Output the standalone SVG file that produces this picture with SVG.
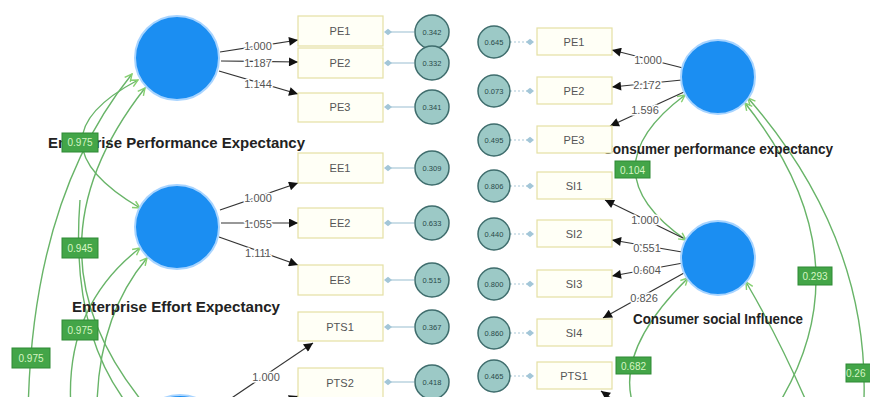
<svg xmlns="http://www.w3.org/2000/svg" width="870" height="397" viewBox="0 0 870 397">
<style>
.bg{fill:#ffffff}
.lat{fill:#1b8ef2;stroke:#a8d4ff;stroke-width:2}
.box{fill:#fffff6;stroke:#e4e0a4;stroke-width:1.2}
.bt{font-family:"Liberation Sans",Arial,sans-serif;font-size:11px;fill:#555;text-anchor:middle}
.err{fill:#9cc9c6;stroke:#3f6d6d;stroke-width:1.5}
.et{font-family:"Liberation Sans",Arial,sans-serif;font-size:7.5px;fill:#2b4a4a;text-anchor:middle}
.eline{stroke:#a9c8d8;stroke-width:1.2;fill:none}
.edot{stroke:#a9c8d8;stroke-width:1.2;fill:none;stroke-dasharray:2 2}
.ld{stroke:#333;stroke-width:1.2;fill:none}
.lt{font-family:"Liberation Sans",Arial,sans-serif;font-size:11px;fill:#555;text-anchor:middle;stroke:#fff;stroke-width:3;paint-order:stroke;stroke-linejoin:round}
.cv{stroke:#68b468;stroke-width:1.4;fill:none}
.gb{fill:#43a548;stroke:#2f8a35;stroke-width:1}
.gt{font-family:"Liberation Sans",Arial,sans-serif;font-size:10px;fill:#d6f5c4;text-anchor:middle}
.nm{font-family:"Liberation Sans",Arial,sans-serif;font-size:14px;font-weight:bold;fill:#222}
</style>
<defs>
<marker id="ab" viewBox="0 0 10 10" refX="10" refY="5" markerWidth="11" markerHeight="9" markerUnits="userSpaceOnUse" orient="auto"><path d="M0,0 L10,5 L0,10 z" fill="#111"/></marker>
<marker id="ag" viewBox="0 0 10 10" refX="9" refY="5" markerWidth="9" markerHeight="9" markerUnits="userSpaceOnUse" orient="auto-start-reverse"><path d="M1,1 L9,5 L1,9" fill="none" stroke="#86d070" stroke-width="1.6"/></marker>
<marker id="dm" viewBox="0 0 10 10" refX="5" refY="5" markerWidth="8" markerHeight="8" markerUnits="userSpaceOnUse" orient="auto"><path d="M0,5 L5,1 L10,5 L5,9 z" fill="#a3c6d8"/></marker>
</defs>
<rect class="bg" x="0" y="0" width="870" height="397"/>

<g id="connectors">
  <path class="cv" d="M138,80 Q25,140 140,208" marker-start="url(#ag)" marker-end="url(#ag)"/>
  <path class="cv" d="M145,88 Q18,250 145,405" marker-start="url(#ag)"/>
  <path class="cv" d="M132,74 Q30,200 28,420" marker-start="url(#ag)"/>
  <path class="cv" d="M140,248 Q60,310 72,420" marker-start="url(#ag)"/>
  <path class="cv" d="M147,258 Q95,320 97,420" marker-start="url(#ag)"/>
  <path class="cv" d="M80,200 Q70,330 128,405"/>
  <path class="cv" d="M685,95 Q585,170 686,240" marker-start="url(#ag)" marker-end="url(#ag)"/>
  <path class="cv" d="M745,103 Q870,260 775,410" marker-start="url(#ag)"/>
  <path class="cv" d="M748,98 Q880,250 862,430" marker-start="url(#ag)"/>
  <path class="cv" d="M688,278 Q605,360 640,420" marker-start="url(#ag)"/>
  <path class="cv" d="M746,282 Q780,340 810,410" marker-start="url(#ag)"/>

  <line class="ld" x1="220" y1="52" x2="298" y2="40" marker-end="url(#ab)"/>
  <line class="ld" x1="221" y1="61" x2="298" y2="62" marker-end="url(#ab)"/>
  <line class="ld" x1="219" y1="71" x2="298" y2="94" marker-end="url(#ab)"/>
  <line class="ld" x1="220" y1="210" x2="298" y2="183" marker-end="url(#ab)"/>
  <line class="ld" x1="221" y1="223" x2="298" y2="223" marker-end="url(#ab)"/>
  <line class="ld" x1="219" y1="237" x2="298" y2="265" marker-end="url(#ab)"/>
  <line class="ld" x1="205" y1="416" x2="313" y2="343" marker-end="url(#ab)"/>
  <line class="ld" x1="215" y1="430" x2="298" y2="396" marker-end="url(#ab)"/>
  <line class="ld" x1="683" y1="68" x2="612" y2="50" marker-end="url(#ab)"/>
  <line class="ld" x1="682" y1="80" x2="612" y2="87" marker-end="url(#ab)"/>
  <line class="ld" x1="684" y1="92" x2="610" y2="126" marker-end="url(#ab)"/>
  <line class="ld" x1="683" y1="238" x2="605" y2="200" marker-end="url(#ab)"/>
  <line class="ld" x1="682" y1="252" x2="612" y2="240" marker-end="url(#ab)"/>
  <line class="ld" x1="683" y1="263" x2="612" y2="276" marker-end="url(#ab)"/>
  <line class="ld" x1="684" y1="273" x2="603" y2="318" marker-end="url(#ab)"/>
  <line class="ld" x1="630" y1="412" x2="601" y2="391" marker-end="url(#ab)"/>

  <line class="eline" x1="414" y1="32" x2="388" y2="32" marker-end="url(#dm)"/>
  <line class="eline" x1="414" y1="63" x2="388" y2="63" marker-end="url(#dm)"/>
  <line class="eline" x1="414" y1="107" x2="388" y2="107" marker-end="url(#dm)"/>
  <line class="eline" x1="414" y1="168" x2="388" y2="168" marker-end="url(#dm)"/>
  <line class="eline" x1="414" y1="223" x2="388" y2="223" marker-end="url(#dm)"/>
  <line class="eline" x1="414" y1="280" x2="388" y2="280" marker-end="url(#dm)"/>
  <line class="eline" x1="414" y1="327" x2="388" y2="327" marker-end="url(#dm)"/>
  <line class="eline" x1="414" y1="382" x2="388" y2="382" marker-end="url(#dm)"/>
  <line class="edot" x1="510" y1="42" x2="530" y2="42" marker-end="url(#dm)"/>
  <line class="edot" x1="510" y1="91" x2="530" y2="91" marker-end="url(#dm)"/>
  <line class="edot" x1="510" y1="140" x2="530" y2="140" marker-end="url(#dm)"/>
  <line class="edot" x1="510" y1="186" x2="530" y2="186" marker-end="url(#dm)"/>
  <line class="edot" x1="510" y1="234" x2="530" y2="234" marker-end="url(#dm)"/>
  <line class="edot" x1="510" y1="284" x2="530" y2="284" marker-end="url(#dm)"/>
  <line class="edot" x1="510" y1="333" x2="530" y2="333" marker-end="url(#dm)"/>
  <line class="edot" x1="510" y1="376" x2="530" y2="376" marker-end="url(#dm)"/>

  <text class="lt" x="258" y="50">1.000</text>
  <text class="lt" x="258" y="67">1.187</text>
  <text class="lt" x="258" y="88">1.144</text>
  <text class="lt" x="258" y="202">1.000</text>
  <text class="lt" x="258" y="228">1.055</text>
  <text class="lt" x="258" y="257">1.111</text>
  <text class="lt" x="266" y="381">1.000</text>
  <text class="lt" x="648" y="64">1.000</text>
  <text class="lt" x="647" y="89">2.172</text>
  <text class="lt" x="645" y="114">1.596</text>
  <text class="lt" x="645" y="224">1.000</text>
  <text class="lt" x="647" y="252">0.551</text>
  <text class="lt" x="647" y="274">0.604</text>
  <text class="lt" x="644" y="302">0.826</text>
</g>

<g id="lat-epe"><circle class="lat" cx="177" cy="58" r="42"/><text class="nm" x="48" y="148" textLength="257" lengthAdjust="spacingAndGlyphs">Enterprise Performance Expectancy</text></g>
<g id="lat-eee"><circle class="lat" cx="177" cy="227" r="42"/><text class="nm" x="72" y="312" textLength="208" lengthAdjust="spacingAndGlyphs">Enterprise Effort Expectancy</text></g>
<g id="lat-ept"><circle class="lat" cx="180" cy="438" r="43"/></g>
<g id="lat-cpe"><circle class="lat" cx="718" cy="77" r="37"/><text class="nm" x="603" y="154" textLength="230" lengthAdjust="spacingAndGlyphs">Consumer performance expectancy</text></g>
<g id="lat-csi"><circle class="lat" cx="718" cy="258" r="37"/><text class="nm" x="633" y="324" textLength="170" lengthAdjust="spacingAndGlyphs">Consumer social Influence</text></g>

<g id="ind-pe1"><rect class="box" x="298" y="16" width="85" height="30"/><text class="bt" x="340" y="35">PE1</text></g>
<g id="ind-pe2"><rect class="box" x="298" y="48" width="85" height="30"/><text class="bt" x="340" y="67">PE2</text></g>
<g id="ind-pe3"><rect class="box" x="298" y="93" width="85" height="29"/><text class="bt" x="340" y="111">PE3</text></g>
<g id="ind-ee1"><rect class="box" x="298" y="153" width="85" height="30"/><text class="bt" x="340" y="172">EE1</text></g>
<g id="ind-ee2"><rect class="box" x="298" y="208" width="85" height="30"/><text class="bt" x="340" y="227">EE2</text></g>
<g id="ind-ee3"><rect class="box" x="298" y="265" width="85" height="30"/><text class="bt" x="340" y="284">EE3</text></g>
<g id="ind-pts1"><rect class="box" x="298" y="312" width="85" height="29"/><text class="bt" x="340" y="331">PTS1</text></g>
<g id="ind-pts2"><rect class="box" x="298" y="368" width="85" height="30"/><text class="bt" x="340" y="387">PTS2</text></g>

<g id="err-l1"><circle class="err" cx="432" cy="32" r="17"/><text class="et" x="432" y="34.7">0.342</text></g>
<g id="err-l2"><circle class="err" cx="432" cy="63" r="17"/><text class="et" x="432" y="65.7">0.332</text></g>
<g id="err-l3"><circle class="err" cx="432" cy="107" r="17"/><text class="et" x="432" y="109.7">0.341</text></g>
<g id="err-l4"><circle class="err" cx="432" cy="168" r="17"/><text class="et" x="432" y="170.7">0.309</text></g>
<g id="err-l5"><circle class="err" cx="432" cy="223" r="17"/><text class="et" x="432" y="225.7">0.633</text></g>
<g id="err-l6"><circle class="err" cx="432" cy="280" r="17"/><text class="et" x="432" y="282.7">0.515</text></g>
<g id="err-l7"><circle class="err" cx="432" cy="327" r="17"/><text class="et" x="432" y="329.7">0.367</text></g>
<g id="err-l8"><circle class="err" cx="432" cy="382" r="17"/><text class="et" x="432" y="384.7">0.418</text></g>

<g id="ind-cpe1"><rect class="box" x="537" y="28" width="75" height="27"/><text class="bt" x="574" y="46">PE1</text></g>
<g id="ind-cpe2"><rect class="box" x="537" y="77" width="75" height="27"/><text class="bt" x="574" y="95">PE2</text></g>
<g id="ind-cpe3"><rect class="box" x="537" y="126" width="75" height="27"/><text class="bt" x="574" y="144">PE3</text></g>
<g id="ind-si1"><rect class="box" x="537" y="172" width="75" height="27"/><text class="bt" x="574" y="190">SI1</text></g>
<g id="ind-si2"><rect class="box" x="537" y="220" width="75" height="27"/><text class="bt" x="574" y="238">SI2</text></g>
<g id="ind-si3"><rect class="box" x="537" y="270" width="75" height="27"/><text class="bt" x="574" y="288">SI3</text></g>
<g id="ind-si4"><rect class="box" x="537" y="319" width="75" height="27"/><text class="bt" x="574" y="337">SI4</text></g>
<g id="ind-cpts1"><rect class="box" x="537" y="362" width="75" height="27"/><text class="bt" x="574" y="380">PTS1</text></g>

<g id="err-r1"><circle class="err" cx="494" cy="42" r="16"/><text class="et" x="494" y="44.7">0.645</text></g>
<g id="err-r2"><circle class="err" cx="494" cy="91" r="16"/><text class="et" x="494" y="93.7">0.073</text></g>
<g id="err-r3"><circle class="err" cx="494" cy="140" r="16"/><text class="et" x="494" y="142.7">0.495</text></g>
<g id="err-r4"><circle class="err" cx="494" cy="186" r="16"/><text class="et" x="494" y="188.7">0.806</text></g>
<g id="err-r5"><circle class="err" cx="494" cy="234" r="16"/><text class="et" x="494" y="236.7">0.440</text></g>
<g id="err-r6"><circle class="err" cx="494" cy="284" r="16"/><text class="et" x="494" y="286.7">0.800</text></g>
<g id="err-r7"><circle class="err" cx="494" cy="333" r="16"/><text class="et" x="494" y="335.7">0.860</text></g>
<g id="err-r8"><circle class="err" cx="494" cy="376" r="16"/><text class="et" x="494" y="378.7">0.465</text></g>

<g id="cov-labels">
  <rect class="gb" x="62" y="133" width="36" height="19"/><text class="gt" x="80" y="146">0.975</text>
  <rect class="gb" x="62" y="238" width="36" height="20"/><text class="gt" x="80" y="252">0.945</text>
  <rect class="gb" x="62" y="320" width="36" height="20"/><text class="gt" x="80" y="334">0.975</text>
  <rect class="gb" x="12" y="348" width="38" height="20"/><text class="gt" x="31" y="362">0.975</text>
  <rect class="gb" x="615" y="161" width="35" height="17"/><text class="gt" x="632.5" y="173.5">0.104</text>
  <rect class="gb" x="798" y="267" width="34" height="18"/><text class="gt" x="815" y="280">0.293</text>
  <rect class="gb" x="846" y="364" width="36" height="18"/><text class="gt" x="846" y="377" style="text-anchor:start">0.26</text>
  <rect class="gb" x="616" y="357" width="35" height="17"/><text class="gt" x="633.5" y="369.5">0.682</text>
</g>
</svg>
